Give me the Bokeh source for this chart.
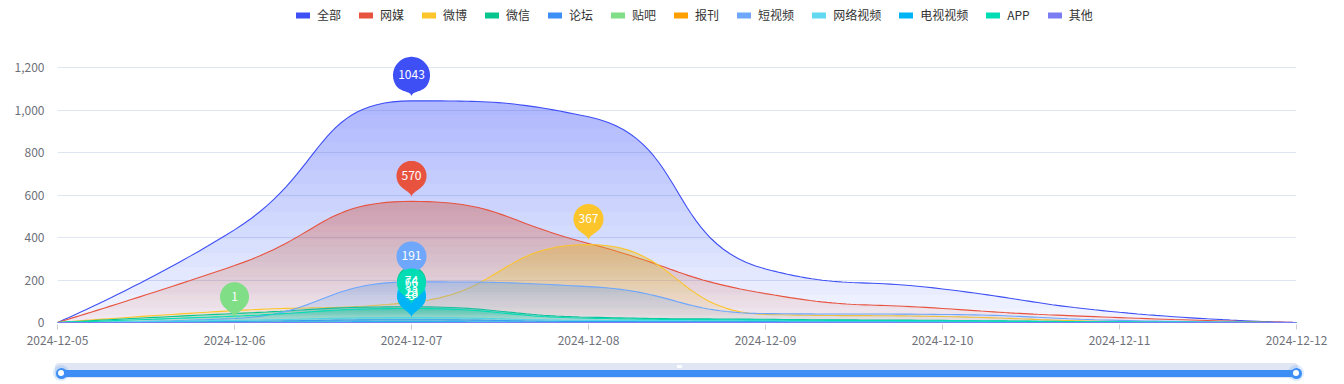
import math
import numpy as np
from bokeh.plotting import figure
from bokeh.models import (Range1d, FixedTicker, NumeralTickFormatter, Legend,
                          LegendItem, Div)
from bokeh.layouts import column
from bokeh.embed import file_html
from bokeh.resources import INLINE
from bokeh.core.properties import value

# ---------------- data ----------------
dates = ["2024-12-05", "2024-12-06", "2024-12-07", "2024-12-08",
         "2024-12-09", "2024-12-10", "2024-12-11", "2024-12-12"]
series_names = ["全部", "网媒", "微博", "微信", "论坛", "贴吧", "报刊",
                "短视频", "网络视频", "电视视频", "APP", "其他"]
series_colors = ["#3E4FF5", "#E8533F", "#FBC52B", "#06C68F", "#3D8EF5",
                 "#80DE86", "#FFA000", "#6EA7FC", "#62D9F0", "#00B4F5",
                 "#00DDB5", "#7B7DF3"]
s_all = [0, 436, 1043, 968, 252, 158, 48, 0]
s_web = [0, 268, 570, 372, 136, 66, 23, 0]
s_weibo = [0, 56, 95, 367, 38, 28, 5, 0]
s_wechat = [0, 42, 74, 25, 15, 10, 3, 0]
s_forum = [0, 5, 13, 5, 4, 3, 1, 0]
s_tieba = [0, 1, 0, 0, 0, 0, 0, 0]
s_press = [0, 0, 0, 0, 0, 0, 0, 0]
s_short_video = [0, 19, 191, 169, 42, 38, 10, 0]
s_net_video = [0, 10, 23, 10, 8, 6, 2, 0]
s_tv_video = [0, 1, 3, 1, 1, 1, 0, 0]
s_app = [0, 30, 66, 20, 12, 8, 3, 0]
s_other = [0, 0, 0, 0, 0, 0, 0, 0]
series_values = [s_all, s_web, s_weibo, s_wechat, s_forum, s_tieba, s_press,
                 s_short_video, s_net_video, s_tv_video, s_app, s_other]
y_ticks = [0, 200, 400, 600, 800, 1000, 1200]

# ---------------- layout (page px) ----------------
W = 1340
MAIN_H = 354
SL_H = 28
FRAME_L, FRAME_R = 57, 1296
FRAME_TOP, FRAME_BOT = 5, 324
ZERO_PX, TOP_TICK_PX = 322, 67
SX = (FRAME_R - FRAME_L) / (len(dates) - 1)
SY = (ZERO_PX - TOP_TICK_PX) / y_ticks[-1]
Y0 = -(FRAME_BOT - ZERO_PX) / SY
Y1 = (ZERO_PX - FRAME_TOP) / SY
FONT = "Noto Sans CJK SC"
AXIS_COLOR = "#6E7079"

p = figure(width=W, height=MAIN_H, output_backend="svg", toolbar_location=None,
           tools="", x_range=Range1d(0, len(dates) - 1), y_range=Range1d(Y0, Y1),
           min_border_left=FRAME_L, min_border_right=W - FRAME_R,
           min_border_top=FRAME_TOP, min_border_bottom=MAIN_H - FRAME_BOT)
p.outline_line_color = None
p.background_fill_color = "white"
p.xgrid.visible = False
p.ygrid.ticker = FixedTicker(ticks=y_ticks[1:])
p.ygrid.grid_line_color = "#E0E6F1"
p.yaxis.ticker = FixedTicker(ticks=y_ticks)
p.yaxis.formatter = NumeralTickFormatter(format="0,0")
p.yaxis.axis_line_color = None
p.yaxis.major_tick_line_color = None
p.yaxis.minor_tick_line_color = None
p.yaxis.major_label_standoff = 7
p.xaxis.ticker = FixedTicker(ticks=list(range(len(dates))))
p.xaxis.major_label_overrides = {i: d for i, d in enumerate(dates)}
p.xaxis.axis_line_color = None
p.xaxis.major_tick_line_color = "#CCCCCC"
p.xaxis.major_tick_out = 5
p.xaxis.major_tick_in = 0
p.xaxis.minor_tick_line_color = None
p.xaxis.major_label_standoff = 6
for ax in (p.xaxis, p.yaxis):
    ax.major_label_text_font = FONT
    ax.major_label_text_font_size = "12px"
    ax.major_label_text_color = AXIS_COLOR


def smooth_curve(vals, smooth=0.5, nseg=30):
    """ECharts-style smoothed line, computed in pixel space."""
    px = [i * SX for i in range(len(vals))]
    py = [v * SY for v in vals]
    n = len(px)
    ox, oy = [px[0]], [py[0]]
    cp0 = (px[0], py[0])
    t = np.linspace(0, 1, nseg)[1:]
    for i in range(1, n):
        x, y = px[i], py[i]
        prx, pry = px[i - 1], py[i - 1]
        if i == n - 1:
            cp1 = (x, y)
            ncp0 = (x, y)
        else:
            nx, ny = px[i + 1], py[i + 1]
            vx, vy = nx - prx, ny - pry
            lp = math.hypot(x - prx, y - pry)
            ln = math.hypot(nx - x, ny - y)
            r = ln / (ln + lp)
            ncx = x + vx * smooth * r
            ncy = y + vy * smooth * r
            ncx = max(min(ncx, max(nx, x)), min(nx, x))
            ncy = max(min(ncy, max(ny, y)), min(ny, y))
            vx, vy = ncx - x, ncy - y
            c1x = x - vx * lp / ln
            c1y = y - vy * lp / ln
            c1x = max(min(c1x, max(prx, x)), min(prx, x))
            c1y = max(min(c1y, max(pry, y)), min(pry, y))
            vx, vy = x - c1x, y - c1y
            ncx = x + vx * ln / lp
            ncy = y + vy * ln / lp
            cp1 = (c1x, c1y)
            ncp0 = (ncx, ncy)
        bx = ((1 - t) ** 3 * prx + 3 * (1 - t) ** 2 * t * cp0[0]
              + 3 * (1 - t) * t ** 2 * cp1[0] + t ** 3 * x)
        by = ((1 - t) ** 3 * pry + 3 * (1 - t) ** 2 * t * cp0[1]
              + 3 * (1 - t) * t ** 2 * cp1[1] + t ** 3 * y)
        ox.extend(bx.tolist())
        oy.extend(by.tolist())
        cp0 = ncp0
    return np.array(ox) / SX, np.array(oy) / SY


A_TOP, A_BOT = 0.38, 0.06
NLAYER = 16
for name, color, vals in zip(series_names, series_colors, series_values):
    xs, ys = smooth_curve(vals)
    m = max(vals)
    if m > 0:
        prev_cum = 0.0
        for k in range(NLAYER):
            frac_top = 1 - (k + 0.5) / NLAYER
            target = A_TOP * (1 - frac_top) + A_BOT * frac_top
            a = 1 - (1 - target) / (1 - prev_cum)
            prev_cum = target
            lo = m * k / NLAYER
            p.varea(x=xs, y1=np.full_like(ys, lo), y2=np.maximum(ys, lo),
                    fill_color=color, fill_alpha=a)
    p.line(xs, ys, line_color=color, line_width=1.1)

# ---------------- max pins (teardrop markers) ----------------
PIN_CY, PIN_TIP, PIN_A = 25.5, 4.0, math.radians(32)
tb = np.linspace(0, 1, 18)


def cubic(p0, p1, p2, p3):
    bx = (1 - tb) ** 3 * p0[0] + 3 * (1 - tb) ** 2 * tb * p1[0] + 3 * (1 - tb) * tb ** 2 * p2[0] + tb ** 3 * p3[0]
    by = (1 - tb) ** 3 * p0[1] + 3 * (1 - tb) ** 2 * tb * p1[1] + 3 * (1 - tb) * tb ** 2 * p2[1] + tb ** 3 * p3[1]
    return bx, by


def pin_outline(r):
    th = np.linspace(-PIN_A, math.pi + PIN_A, 60)
    ax_ = r * np.cos(th)
    ay_ = PIN_CY + r * np.sin(th)
    tx, ty = r * math.cos(PIN_A), PIN_CY - r * math.sin(PIN_A)
    k1, k2 = 0.5 * r, 0.35 * r
    lx, ly = cubic((-tx, ty), (-tx + math.sin(PIN_A) * k1, ty - math.cos(PIN_A) * k1),
                   (0, PIN_TIP + k2), (0, PIN_TIP))
    rx, ry = cubic((0, PIN_TIP), (0, PIN_TIP + k2),
                   (tx - math.sin(PIN_A) * k1, ty - math.cos(PIN_A) * k1), (tx, ty))
    return np.concatenate([ax_, lx, rx]), np.concatenate([ay_, ly, ry])


pin_xs, pin_ys, pin_cols = [], [], []
lab_x, lab_y, lab_t = [], [], []
for name, color, vals in zip(series_names, series_colors, series_values):
    m = max(vals)
    if m <= 0:
        continue
    i = int(np.argmax(vals))
    label = str(m)
    r = max(14.5, 3.5 * len(label) + 4.5)
    ox, oy = pin_outline(r)
    pin_xs.append((i + ox / SX).tolist())
    pin_ys.append((m + oy / SY).tolist())
    pin_cols.append(color)
    lab_x.append(i)
    lab_y.append(m + (PIN_CY + 0.5) / SY)
    lab_t.append(label)
p.patches(pin_xs, pin_ys, fill_color=pin_cols, line_color=None)
p.text(x=lab_x, y=lab_y, text=lab_t, text_color="white", text_align="center",
       text_baseline="middle", text_font=value(FONT), text_font_size="12px")

# ---------------- legend ----------------
items = []
for name, color in zip(series_names, series_colors):
    r = p.line([-5, -4], [-5000, -5000], line_color=color, line_width=6, line_cap="round")
    items.append(LegendItem(label=name, renderers=[r]))
legend = Legend(items=items, orientation="horizontal",
                location=(296 - FRAME_L, FRAME_BOT - FRAME_TOP - 18),
                glyph_width=14, glyph_height=12, label_height=12, label_standoff=7,
                spacing=18, padding=0, margin=0, border_line_color=None,
                background_fill_alpha=0, label_text_font=FONT,
                label_text_font_size="12px", label_text_color="#333333")
p.add_layout(legend)

# ---------------- data-zoom slider (decoration, HTML) ----------------
SL_TOP = MAIN_H


def box(left, top, w, h, bg, radius="0"):
    return (f'<div style="position:absolute;left:{left}px;top:{top - SL_TOP}px;'
            f'width:{w}px;height:{h}px;background:{bg};border-radius:{radius};"></div>')


parts = [box(55, 363, 1243, 15, "#E0E6F3", "4px"),
         box(FRAME_L + 4, 369.5, FRAME_R - FRAME_L - 4, 7.5, "#3D8EF5"),
         box(677, 365, 5, 3, "rgba(255,255,255,0.85)")]
for hx in (FRAME_L + 4, FRAME_R):
    parts.append(box(hx - 8, 373 - 8, 16, 16, "rgba(61,142,245,0.18)", "50%"))
    parts.append(box(hx - 5.5, 373 - 5.5, 11, 11, "#3D8EF5", "50%"))
    parts.append(box(hx - 3, 373 - 3, 6, 6, "#FFFFFF", "50%"))
slider_html = (f'<div style="position:relative;width:{W}px;height:{SL_H}px;'
               f'margin:0;padding:0;">' + "".join(parts) + "</div>")
slider = Div(text=slider_html, width=W, height=SL_H, margin=(0, 0, 0, 0))

layout = column(p, slider, spacing=0)
open("out.html", "w").write(file_html(layout, INLINE))
